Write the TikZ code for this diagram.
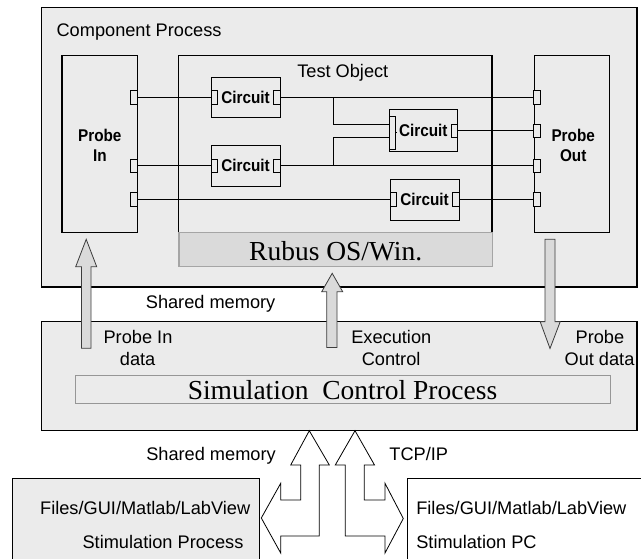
\documentclass[tikz,border=0pt]{standalone}
\usepackage{fontspec}
\setmainfont{Liberation Sans}
\newfontfamily\serifff{Liberation Serif}
\newfontfamily\narrowff{Liberation Sans}[FakeStretch=0.9]
\newcommand\txtreg{\fontsize{18.2}{21}\selectfont}
\newcommand\txtbold{\narrowff\bfseries\fontsize{17}{20}\selectfont}
\newcommand\txtserif{\serifff\fontsize{27.5}{30}\selectfont}
\definecolor{bgA}{RGB}{235,235,235}
\definecolor{rubusfill}{RGB}{218,218,218}
\definecolor{rubusline}{RGB}{165,165,165}
\definecolor{arrowfill}{RGB}{218,218,218}
\definecolor{simline}{RGB}{150,150,150}
\definecolor{arrowline}{RGB}{60,60,60}
\begin{document}
\begin{tikzpicture}[x=1pt,y=-1pt,
  box/.style={draw=black, line width=1.1pt, fill=bgA, inner sep=0pt, outer sep=0pt},
  cbox/.style={draw=black, line width=0.9pt, fill=bgA, inner sep=0pt, outer sep=0pt,
    minimum width=69pt, minimum height=40.7pt, font=\txtbold},
  port/.style={draw=black, line width=0.8pt, fill=bgA, minimum width=6.5pt,
    minimum height=13.5pt, inner sep=0pt, outer sep=0pt},
  wire/.style={line width=0.8pt},
  lbl/.style={inner sep=0pt, outer sep=0pt, anchor=base, font=\txtreg},
  smallarrow/.style={draw=arrowline, fill=arrowfill, line width=0.8pt, line join=miter},
  fatarrow/.style={draw=black, fill=white, line width=0.8pt, line join=miter}]
\useasboundingbox (0,0) rectangle (641,558);

% ---------- Component process ----------
\node[box, minimum width=595.5pt, minimum height=279.5pt] (comp) at (339.25,147.25) {};
\node[lbl, anchor=base west] (comptxt) at (56.6,36) {Component Process};

\node[box, minimum width=75.3pt, minimum height=177pt] (probein) at (99.65,143.8) {};
\node[lbl, font=\txtbold] (pin1) at (99.8,141.7) {Probe};
\node[lbl, font=\txtbold] (pin2) at (99.8,161) {In};

\node[box, minimum width=313.2pt, minimum height=177pt] (testobj) at (335.4,143.8) {};
\node[lbl] (totxt) at (342.8,77.3) {Test Object};

\node[box, minimum width=75pt, minimum height=177pt] (probeout) at (572,143.8) {};
\node[lbl, font=\txtbold] (pout1) at (573.2,141.7) {Probe};
\node[lbl, font=\txtbold] (pout2) at (573.2,161) {Out};

\node[draw=rubusline, fill=rubusfill, line width=1.5pt, minimum width=313.5pt,
  minimum height=34.4pt, inner sep=0pt] (rubus) at (335.55,249.5) {};
\node[lbl, font=\txtserif] (rubustxt) at (335.7,260) {Rubus OS/Win.};

% circuits
\node[cbox] (c1) at (245.5,97.35) {Circuit};
\node[cbox, minimum height=41.5pt, minimum width=68.5pt] (c2) at (423.25,130.25) {Circuit};
\node[cbox, minimum height=41pt] (c3) at (245.5,165.5) {Circuit};
\node[cbox] (c4) at (424.5,199.65) {Circuit};

% ports
\node[port] (pi1) at (133.8,97.5) {};
\node[port] (pi2) at (133.8,165.7) {};
\node[port] (pi3) at (133.8,199.5) {};
\node[port] (po1) at (537,97.5) {};
\node[port] (po2) at (537,130.7) {};
\node[port] (po3) at (537,165.7) {};
\node[port] (po4) at (537,199.5) {};
\node[port] (c1l) at (214.25,97.5) {};
\node[port] (c1r) at (276.75,97.5) {};
\node[port] (c3l) at (214.25,165.7) {};
\node[port] (c3r) at (276.75,165.7) {};
\node[port] (c4l) at (393.25,199.5) {};
\node[port] (c4r) at (455.75,199.5) {};
\node[port, minimum height=32.3pt, minimum width=6pt] (c2l) at (392,132.85) {};
\node[port] (c2r) at (454.25,130.7) {};
\draw[wire] (c2l.east) -- ++(2.2,0);

% wires
\draw[wire] (pi1.east) -- (c1l.west);
\draw[wire] (c1r.east) -- (po1.west);
\draw[wire] (pi2.east) -- (c3l.west);
\draw[wire] (c3r.east) -- (po3.west);
\draw[wire] (pi3.east) -- (c4l.west);
\draw[wire] (c4r.east) -- (po4.west);
\draw[wire] (c2r.east) -- (po2.west);
\coordinate (j1) at (333.3,97.5);
\coordinate (k1) at (389,124);
\coordinate (j2) at (333.3,165.7);
\coordinate (k2) at (389,137.3);
\draw[wire] (j1) |- (k1);
\draw[wire] (j2) |- (k2);

% ---------- Simulation control process ----------
\node[box, minimum width=595.5pt, minimum height=109pt] (sim) at (339.25,376.2) {};
\node[draw=simline, fill=bgA, line width=1pt, minimum width=534.8pt,
  minimum height=27.2pt, inner sep=0pt] (simin) at (343.1,389.4) {};
\node[lbl, font=\txtserif] (simtxt) at (342.5,399.3) {Simulation\ \ Control Process};

\node[lbl] (l1a) at (138,343.3) {Probe In};
\node[lbl] (l1b) at (137.6,365) {data};
\node[lbl] (l2a) at (391.3,343.3) {Execution};
\node[lbl] (l2b) at (391.1,365) {Control};
\node[lbl] (l3a) at (599.9,343.3) {Probe};
\node[lbl] (l3b) at (599.5,365) {Out data};
\node[lbl] (shm1) at (210.6,308.3) {Shared memory};

% small arrows between processes
\draw[smallarrow] (81.5,348.3) -- (81.5,266.7) -- (75.7,266.7) -- (86.2,239.3)
  -- (96.7,266.7) -- (91,266.7) -- (91,348.3) -- cycle;
\draw[smallarrow] (326.7,347.5) -- (326.7,291.7) -- (321.7,291.7) -- (332.2,273.3)
  -- (342.7,291.7) -- (337,291.7) -- (337,347.5) -- cycle;
\draw[smallarrow] (545,239.3) -- (555,239.3) -- (555,321.7) -- (560.2,321.7)
  -- (550,348.5) -- (540.2,321.7) -- (545,321.7) -- cycle;

% ---------- bottom ----------
\node[lbl] (shm2) at (211,460) {Shared memory};
\node[lbl] (tcp) at (418.8,460) {TCP/IP};

\node[box, minimum width=246.9pt, minimum height=86.7pt] (stimproc) at (135.75,521.65) {};
\node[lbl] (sp1) at (145.2,514.3) {Files/GUI/Matlab/LabView};
\node[lbl] (sp2) at (163,548.3) {Stimulation Process};

\node[box, fill=white, minimum width=242.7pt, minimum height=86.7pt] (stimpc) at (528.65,521.65) {};
\node[lbl, anchor=base west] (pc1) at (416.3,514.3) {Files/GUI/Matlab/LabView};
\node[lbl, anchor=base west] (pc2) at (416.3,548.3) {Stimulation PC};

\draw[fatarrow] (309.3,430.7) -- (329.3,465) -- (319.3,465) -- (319.3,536)
  -- (280.7,536) -- (280.7,553) -- (261.3,518) -- (280.7,483.3) -- (280.7,500)
  -- (300.7,500) -- (300.7,465) -- (290.7,465) -- cycle;
\draw[fatarrow] (355,430.7) -- (374.5,465) -- (364.3,465) -- (364.3,500)
  -- (385,500) -- (385,483.3) -- (403.3,518.5) -- (385,553) -- (385,536)
  -- (345.3,536) -- (345.3,465) -- (335.3,465) -- cycle;
\end{tikzpicture}
\end{document}
